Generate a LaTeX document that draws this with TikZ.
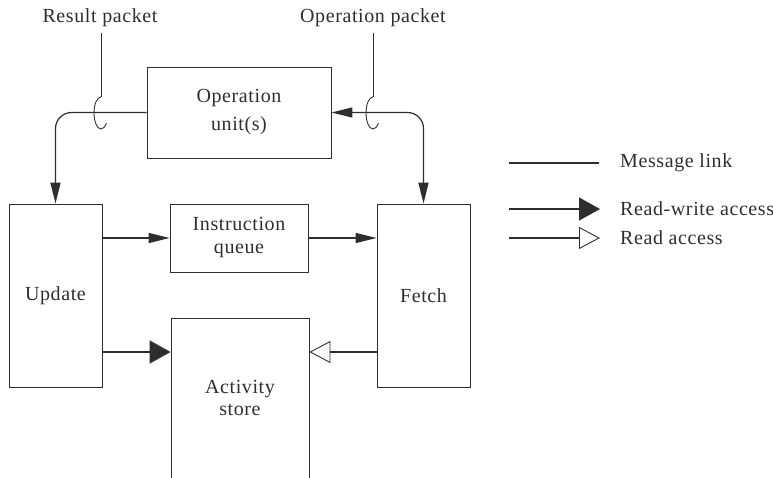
\documentclass[tikz,border=0pt]{standalone}
\usepackage{fontspec}
\setmainfont{Liberation Serif}[LetterSpace=3]
\usetikzlibrary{arrows.meta}
\definecolor{ink}{HTML}{2E2E2E}
\tikzset{
  unit/.style={draw=ink, line width=0.8pt, rectangle, inner sep=0pt, align=center,
               text=ink, font=\fontsize{20}{24}\selectfont},
  caption/.style={text=ink, inner sep=0pt, font=\fontsize{20}{24}\selectfont},
  link/.style={draw=ink, line width=1.2pt},
  rwhead/.style={link, -{Triangle[length=21pt,width=23pt]}},
  rhead/.style={link, -{Triangle[open,length=21pt,width=22pt,line width=0.9pt]}},
  qhead/.style={link, -{Triangle[length=21pt,width=10pt]}},
  packetloop/.style={draw=ink, line width=0.9pt}
}
\begin{document}
\begin{tikzpicture}[x=1pt,y=-1pt]
  \useasboundingbox (0,0) rectangle (773,477);

  % processing units
  \node[unit, minimum width=184pt, minimum height=91pt] (opu) at (239,112.5) {Operation\\[4pt]unit(s)};
  \node[unit, minimum width=93pt, minimum height=183pt] (upd) at (55.5,295.5) {Update};
  \node[unit, minimum width=138pt, minimum height=68pt] (iq) at (239,238) {Instruction\\[-1pt]queue};
  \node[unit, minimum width=93pt, minimum height=183pt] (fet) at (423.5,295.5) {Fetch};
  \node[unit, minimum width=138pt, minimum height=170pt] (act) at (240,403) {};
  \node[caption, align=center, text width=138pt] (actlbl) at (240,398) {Activity\\[-2pt]store};

  % packet labels and their leaders
  \node[caption] (res) at (100,18) {Result packet};
  \node[caption] (opp) at (373,18) {Operation packet};
  \coordinate (resloop) at (101,97);
  \coordinate (opploop) at (373,97);
  \coordinate (restop) at (101,33);
  \coordinate (opptop) at (373,33);
  \draw[packetloop] (restop) -- (resloop);
  \draw[packetloop] (opptop) -- (opploop);
  \draw[packetloop] (resloop) arc[start angle=270, end angle=40, x radius=7, y radius=16];
  \draw[packetloop] (opploop) arc[start angle=270, end angle=40, x radius=7, y radius=16];

  % message links with access heads
  \draw[link, rounded corners=16pt, -{Triangle[length=21pt,width=10pt]}] (opu.west) -| (upd.north);
  \draw[link, rounded corners=16pt, {Triangle[length=21pt,width=10pt]}-{Triangle[length=21pt,width=10pt]}]
       (opu.east) -| (fet.north);
  \draw[qhead] (upd.east |- iq.west) -- (iq.west);
  \draw[qhead] (iq.east) -- (fet.west |- iq.east);
  \coordinate (storeline) at (0,352);
  \draw[rwhead] (upd.east |- storeline) -- (act.west |- storeline);
  \draw[rhead] (fet.west |- storeline) -- (act.east |- storeline);

  % legend
  \node[caption, anchor=west] (lgm) at (620,163) {Message link};
  \node[caption, anchor=west] (lgrw) at (620,209) {Read-write access};
  \node[caption, anchor=west] (lgr) at (620,238) {Read access};
  \coordinate (m0) at (509,163);
  \coordinate (m1) at (599,163);
  \coordinate (rw0) at (509,209);
  \coordinate (rw1) at (600,209);
  \coordinate (r0) at (509,238);
  \coordinate (r1) at (600,238);
  \draw[link] (m0) -- (m1);
  \draw[rwhead] (rw0) -- (rw1);
  \draw[rhead] (r0) -- (r1);
\end{tikzpicture}
\end{document}
